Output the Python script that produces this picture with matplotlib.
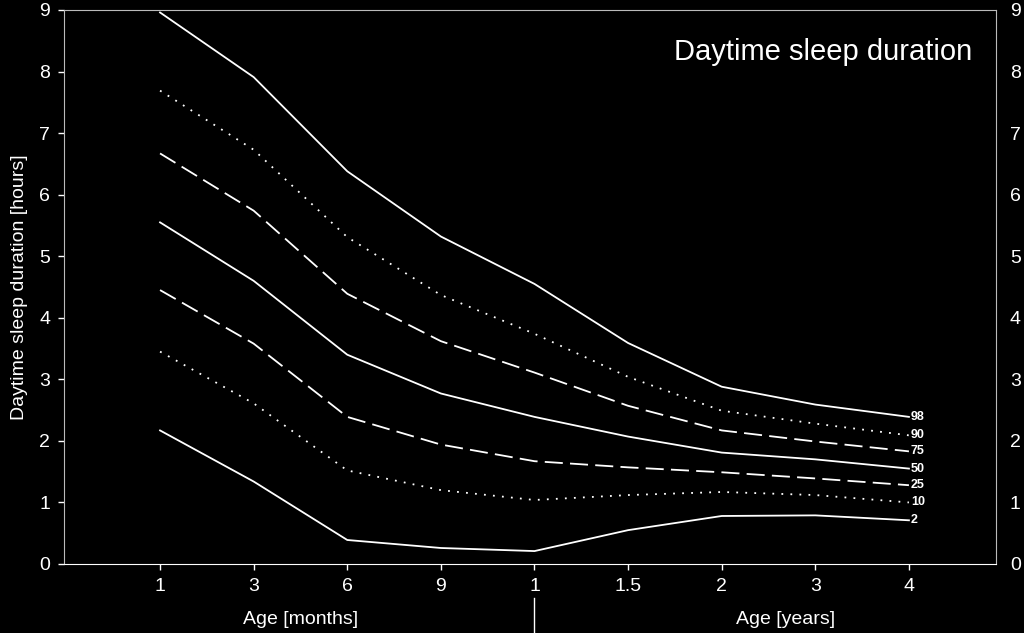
import matplotlib.pyplot as plt
import numpy as np

plt.rcParams['font.family'] = ['Liberation Sans', 'DejaVu Sans']

# data
ages = ['1', '3', '6', '9', '1', '1.5', '2', '3', '4']
centiles = ['98', '90', '75', '50', '25', '10', '2']
p98 = [8.96, 7.91, 6.38, 5.32, 4.55, 3.59, 2.88, 2.59, 2.39]
p90 = [7.69, 6.73, 5.31, 4.37, 3.74, 3.04, 2.49, 2.28, 2.09]
p75 = [6.67, 5.74, 4.39, 3.62, 3.11, 2.57, 2.17, 1.99, 1.83]
p50 = [5.55, 4.60, 3.40, 2.77, 2.39, 2.07, 1.81, 1.70, 1.55]
p25 = [4.45, 3.58, 2.39, 1.94, 1.67, 1.57, 1.49, 1.39, 1.28]
p10 = [3.45, 2.61, 1.52, 1.20, 1.04, 1.12, 1.17, 1.12, 1.00]
p2 = [2.17, 1.34, 0.39, 0.26, 0.21, 0.55, 0.78, 0.79, 0.71]
series = [p98, p90, p75, p50, p25, p10, p2]
styles = ['-', (0, (1, 4)), (0, (10, 4)), '-', (0, (10, 4)), (0, (1, 4)), '-']

fig = plt.figure(figsize=(10.24, 6.33), dpi=100, facecolor='black')
ax = fig.add_axes([64/1024, 69/633, 932/1024, 554/633], facecolor='black')
x = np.arange(len(ages))

for vals, ls, lab in zip(series, styles, centiles):
    ax.plot(x, vals, color='white', linestyle=ls, linewidth=1.3)
    ax.text(x[-1] + 0.02, vals[-1], lab, color='white', fontsize=9,
            fontweight='bold', ha='left', va='center')

ax.set_xlim(-1.026, 8.93)
ax.set_ylim(0, 9)
ax.set_xticks(x)
ax.set_xticklabels(ages)
ax.set_yticks(range(10))
ax.tick_params(colors='white', labelsize=14, length=4, width=1)
ax.tick_params(axis='x', pad=6)
ax.tick_params(axis='y', pad=6, labelright=True, right=False)
for s in ax.spines.values():
    s.set_color('#bbbbbb')
ax.spines['bottom'].set_color('white')

ax.set_ylabel('Daytime sleep duration [hours]', color='white', fontsize=14, labelpad=8)
ax.text(0.975, 0.925, 'Daytime sleep duration', transform=ax.transAxes,
        color='white', fontsize=21, ha='right', va='center')

trans = ax.get_xaxis_transform()
ax.text(1.5, -0.1, 'Age [months]', transform=trans, color='white',
        fontsize=14, ha='center', va='center')
ax.text(6.68, -0.1, 'Age [years]', transform=trans, color='white',
        fontsize=14, ha='center', va='center')
ax.plot([4, 4], [-0.062, -0.125], transform=trans, color='white',
        linewidth=1, clip_on=False)

fig.savefig('out.png', dpi=100, facecolor='black')
